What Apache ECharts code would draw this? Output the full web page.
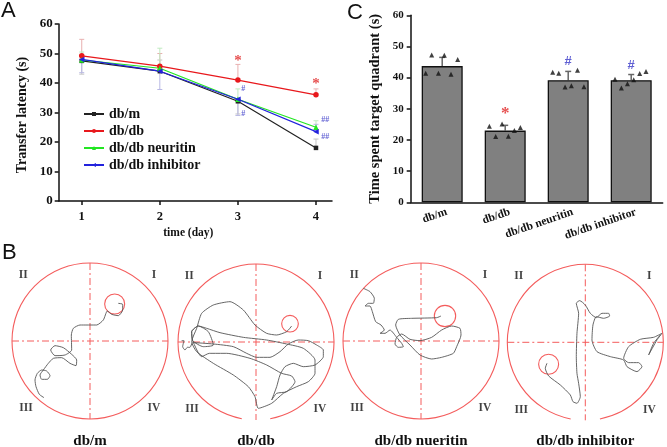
<!DOCTYPE html>
<html><head><meta charset="utf-8">
<style>html,body{margin:0;padding:0;background:#fff}#c{width:667px;height:447px}</style>
<script src="https://cdn.jsdelivr.net/npm/echarts@6/dist/echarts.min.js"></script>
</head><body><div id="c"></div>
<script>
// Panel A
const days = [1, 2, 3, 4];
const dbM = [47.5, 44, 33.8, 18];
const dbDb = [49.2, 45.7, 41, 36];
const dbNeuritin = [47.8, 45, 34.5, 25];
const dbInhibitor = [48, 44, 34.5, 23.5];
const errM = [[1, 47.5, 43], [2, 44, 47.8], [3, 33.8, 29.5], [4, 18, 21]];
const errDb = [[1, 49.2, 54.8], [2, 45.7, 50], [3, 41, 46.3], [4, 36, 38]];
const errNeuritin = [[1, 47.8, 50.5], [2, 45, 51.8], [3, 34.5, 38], [4, 25, 27.2]];
const errInhibitor = [[1, 48, 43.5], [2, 44, 37.8], [3, 34.5, 29], [4, 23.5, 26]];
const starsA = [[3, 47.5], [4, 39.5]];
const hashA = [[3.07, 37.9, '#'], [3.07, 29.4, '#'], [4.12, 27.5, '##'], [4.12, 21.6, '##']];
// Panel C
const groups = ['db/m', 'db/db', 'db/db neuritin', 'db/db inhibitor'];
const timeTarget = [43.7, 23, 39.2, 39.2];
const timeErr = [46.5, 24.7, 42, 41];
const pointsC = [
  [0.238, 41.4], [0.333, 47.3], [0.44, 41.4], [0.534, 47.2], [0.64, 41.1], [0.746, 45.8],
  [1.249, 24.4], [1.349, 21.1], [1.45, 25.1], [1.55, 21.2], [1.646, 23], [1.741, 24],
  [2.254, 41.7], [2.35, 41.4], [2.45, 37], [2.55, 37.4], [2.648, 42.4], [2.75, 37.1],
  [3.243, 39.5], [3.344, 36.7], [3.44, 38], [3.54, 39.3], [3.635, 41.3], [3.735, 42]
];
const starC = [[1.5, 28.6]];
const hashC = [[2.5, 45.1], [3.5, 44]];
const traceM = [[132,488],[118,478],[108,455],[105,435],[112,415],[125,405],[140,408],[150,422],[142,433],[125,433],[120,420],[130,405],[145,385],[160,370],[185,368],[210,385],[228,392],[230,375],[215,358],[190,338],[165,332],[152,345],[165,362],[195,360],[215,345],[214,300],[220,280],[240,270],[290,270],[310,255],[322,228],[335,238],[355,242],[368,225],[368,208],[355,205]];
const traceDb = [[35,272],[42,272],[38,290],[45,300],[52,292],[60,292],[68,278],[130,282],[190,290],[230,310],[260,322],[300,322],[330,305],[355,282],[385,270],[415,272],[440,285],[460,300],[460,320],[435,345],[400,350],[370,340],[345,350],[330,375],[320,410],[305,450],[320,430],[350,425],[375,395],[365,378],[335,370],[290,345],[240,325],[170,310],[118,310],[95,320],[68,272],[65,245],[85,228],[115,245],[130,285],[100,290],[68,272],[65,245],[85,228],[110,235],[150,248],[220,262],[290,270],[350,282],[400,295],[435,330],[435,370],[415,395],[380,410],[340,430],[305,460],[265,475],[255,440],[235,410],[190,375],[130,340],[80,305],[65,275],[80,235],[95,190],[130,165],[180,155],[220,180],[255,225],[290,250],[320,255],[350,245],[365,228]];
const traceNeuritin = [[85,115],[105,125],[118,145],[115,160],[100,160],[90,168],[105,168],[112,185],[122,215],[138,225],[148,240],[135,250],[150,250],[165,240],[185,262],[200,280],[205,290],[190,292],[180,282],[185,262],[200,252],[225,268],[255,272],[290,262],[320,240],[350,228],[375,235],[378,255],[365,290],[355,310],[320,322],[290,327],[255,315],[225,285],[195,255],[182,225],[190,208],[230,205],[305,203],[318,198]];
const traceInhibitor = [[150,340],[145,355],[155,378],[190,405],[220,435],[228,455],[240,460],[250,440],[245,400],[240,370],[238,320],[240,250],[245,190],[238,160],[248,152],[265,165],[280,190],[298,203],[315,190],[335,190],[338,198],[320,205],[298,200],[288,225],[285,270],[300,305],[340,320],[380,330],[390,350],[420,365],[435,350],[425,338],[395,338],[380,325],[395,290],[430,268],[470,262],[495,250],[480,270],[455,315],[470,280],[490,255]];
const mazeCentres = [[270,318],[258,276],[258,273],[265,277]];
const gapDegrees = [0, 10.5, 0, 10.8];
const platforms = [[344,207,30],[360,221,25],[330,198,32],[155,343,30]];
const captions = ['db/m', 'db/db', 'db/db nueritin', 'db/db inhibitor'];
const quadrants = ['I', 'II', 'III', 'IV'];

const SERIF = '"Liberation Serif","Times New Roman",serif';
const chart = echarts.init(document.getElementById('c'), null, {renderer: 'canvas'});
const axisLine = {show: true, lineStyle: {color: '#111', width: 1.5}};
const axisTick = {show: true, length: 4, lineStyle: {color: '#111', width: 1.5}};

function errorSeries(data, color) {
  return {type: 'custom', xAxisIndex: 0, yAxisIndex: 0, z: 1, silent: true, data,
    renderItem(p, api) {
      const a = api.coord([api.value(0), api.value(1)]), b = api.coord([api.value(0), api.value(2)]);
      return {type: 'group', children: [
        {type: 'line', shape: {x1: a[0], y1: a[1], x2: b[0], y2: b[1]}, style: {stroke: color, lineWidth: 1}},
        {type: 'line', shape: {x1: b[0] - 2.5, y1: b[1], x2: b[0] + 2.5, y2: b[1]}, style: {stroke: color, lineWidth: 1}}
      ]};
    }};
}
function lineSeries(name, vals, color, symbol, rot) {
  return {name, type: 'line', xAxisIndex: 0, yAxisIndex: 0, z: 3, data: vals.map((v, i) => [days[i], v]),
    symbol, symbolSize: symbol === 'rect' ? 4.5 : 5.5, symbolRotate: rot || 0,
    lineStyle: {color, width: 1.2}, itemStyle: {color}};
}
function textSeries(x, y, data, color, size, fam) {
  return {type: 'scatter', xAxisIndex: x, yAxisIndex: y, symbolSize: 0, silent: true, z: 5, data,
    label: {show: true, position: 'inside', color, fontSize: size, fontFamily: fam || SERIF, fontWeight: 'bold',
      formatter: p => (p.data[2] !== undefined ? p.data[2] : '')}};
}

const grid = [
  {left: 58.7, top: 24, width: 273.3, height: 177},
  {left: 410.7, top: 15.3, width: 252, height: 187},
];
const xAxis = [
  {gridIndex: 0, type: 'value', min: 0.705, max: 4.205, splitLine: {show: false}, axisLine,
   axisTick: {...axisTick, customValues: days},
   axisLabel: {customValues: days, color: '#111', fontFamily: SERIF, fontWeight: 'bold', fontSize: 12.5, margin: 9},
   name: 'time (day)', nameLocation: 'middle', nameGap: 26,
   nameTextStyle: {color: '#111', fontFamily: SERIF, fontWeight: 'bold', fontSize: 11.5, padding: [0, 14, 0, 0]}},
  {gridIndex: 1, type: 'category', data: groups, axisLine, axisTick: {show: false},
   axisLabel: {rotate: 19, color: '#111', fontFamily: SERIF, fontWeight: 'bold', fontSize: 11.5, margin: 11, interval: 0, padding: [0, -5, 0, 0]}},
  {gridIndex: 1, type: 'value', min: 0, max: 4, show: false},
];
const yAxis = [
  {gridIndex: 0, type: 'value', min: 0, max: 60, interval: 10, splitLine: {show: false}, axisLine, axisTick,
   axisLabel: {color: '#111', fontFamily: SERIF, fontWeight: 'bold', fontSize: 13, margin: 6},
   name: 'Transfer latency (s)', nameLocation: 'middle', nameGap: 29,
   nameTextStyle: {color: '#111', fontFamily: SERIF, fontWeight: 'bold', fontSize: 14, padding: [0, 5, 0, 0]}},
  {gridIndex: 1, type: 'value', min: 0, max: 60, interval: 10, splitLine: {show: false}, axisLine, axisTick,
   axisLabel: {color: '#111', fontFamily: SERIF, fontWeight: 'bold', fontSize: 11, margin: 7},
   name: 'Time spent target quadrant (s)', nameLocation: 'middle', nameGap: 28,
   nameTextStyle: {color: '#111', fontFamily: SERIF, fontWeight: 'bold', fontSize: 14.5}},
];
const series = [
  errorSeries(errM, '#c4c4c4'), errorSeries(errDb, '#e8b0b0'),
  errorSeries(errNeuritin, '#c0eac0'), errorSeries(errInhibitor, '#b8b8e4'),
  lineSeries('db/m', dbM, '#222', 'rect'),
  lineSeries('db/db', dbDb, '#e8181c', 'circle'),
  lineSeries('db/db neuritin', dbNeuritin, '#22e622', 'triangle'),
  lineSeries('db/db inhibitor', dbInhibitor, '#2222dd', 'triangle', 90),
  textSeries(0, 0, starsA.map(p => [p[0], p[1], '*']), '#e02020', 15),
  textSeries(0, 0, hashA, '#3838c8', 8),
  {type: 'bar', xAxisIndex: 1, yAxisIndex: 1, data: timeTarget, barWidth: 41, z: 2,
   itemStyle: {color: '#808080', borderColor: '#111', borderWidth: 1.3}},
  {type: 'custom', xAxisIndex: 1, yAxisIndex: 1, z: 1, silent: true,
   data: timeTarget.map((v, i) => [i, v, timeErr[i]]),
   renderItem(p, api) {
     const a = api.coord([api.value(0), api.value(1)]), b = api.coord([api.value(0), api.value(2)]);
     const st = {stroke: '#666', lineWidth: 1.5};
     return {type: 'group', children: [
       {type: 'line', shape: {x1: a[0], y1: a[1], x2: b[0], y2: b[1]}, style: st},
       {type: 'line', shape: {x1: b[0] - 3, y1: b[1], x2: b[0] + 3, y2: b[1]}, style: st}
     ]};
   }},
  {type: 'scatter', xAxisIndex: 2, yAxisIndex: 1, z: 4, data: pointsC, symbol: 'triangle', symbolSize: 5,
   itemStyle: {color: '#111'}},
  textSeries(2, 1, starC.map(p => [p[0], p[1], '*']), '#e02020', 17),
  textSeries(2, 1, hashC.map(p => [p[0], p[1], '#']), '#3838c8', 13, '"Liberation Sans",sans-serif'),
];

const traces = [traceM, traceDb, traceNeuritin, traceInhibitor];
const panelCentres = [[90, 341], [256, 342], [421, 341], [585.3, 342.3]];
const quadOffsets = {I: [192, -198], II: [-200, -198], III: [-192, 202], IV: [192, 202]};
const RED = '#f45c5c';
function ringSeries(ax, yax, rows, width) {
  return {type: 'custom', xAxisIndex: ax, yAxisIndex: yax, silent: true, z: 2, clip: false, data: rows,
    renderItem(p, api) {
      const c = api.coord([api.value(0), api.value(1)]);
      const r = api.size([api.value(2), 0])[0];
      return {type: 'arc', shape: {cx: c[0], cy: c[1], r,
          startAngle: api.value(3) * Math.PI / 180, endAngle: api.value(4) * Math.PI / 180, clockwise: true},
        style: {stroke: RED, lineWidth: width, fill: null}};
    }};
}
traces.forEach((t, i) => {
  const [mx, my] = mazeCentres[i], [px, py] = panelCentres[i], ax = i + 2, gap = gapDegrees[i];
  grid.push({left: px - 80, top: py - 80, width: 160, height: 160});
  xAxis.push({gridIndex: ax, type: 'value', min: mx - 240, max: mx + 240, show: false});
  yAxis.push({gridIndex: ax, type: 'value', min: my - 240, max: my + 240, inverse: true, show: false});
  const dash = {color: RED, width: 1, type: [7, 3, 2, 3]};
  const x = ax + 1; // xAxis index shifted by the hidden value axis of panel C
  const s = (o) => Object.assign({xAxisIndex: x, yAxisIndex: ax, silent: true, clip: false}, o);
  series.push(s({type: 'line', symbol: 'none', lineStyle: dash, z: 1, data: [[mx - 234, my], [mx + 234, my]]}));
  series.push(s({type: 'line', symbol: 'none', lineStyle: dash, z: 1, data: [[mx, my - 234], [mx, my + 234]]}));
  series.push(ringSeries(x, ax, [[mx, my, 234, 90 + gap, 90 - gap + 360]], 1.1));
  series.push(ringSeries(x, ax, [[platforms[i][0], platforms[i][1], platforms[i][2], 0, 360]], 1.1));
  series.push(s({type: 'line', symbol: 'none', smooth: 0.2, z: 3, data: t, lineStyle: {color: '#555', width: 0.9}}));
  series.push(textSeries(x, ax, quadrants.map(q => [mx + quadOffsets[q][0], my + quadOffsets[q][1], q]), '#111', 11.5));
});
// captions and panel letters
const free = [];
panelCentres.forEach((c, i) => free.push({type: 'text', x: c[0], y: 441, z: 10,
  style: {text: captions[i], fill: '#111', font: 'bold 15px ' + SERIF, textAlign: 'center', textVerticalAlign: 'middle'}}));
[['A', 1, 11], ['C', 347, 13], ['B', 2, 253]].forEach(l => free.push({type: 'text', x: l[1], y: l[2], z: 10,
  style: {text: l[0], fill: '#111', font: '22px "Liberation Sans",Arial,sans-serif', textVerticalAlign: 'middle'}}));

chart.setOption({
  animation: false, backgroundColor: '#fff', grid, xAxis, yAxis, series,
  legend: {left: 83, top: 107, padding: 0, orient: 'vertical', itemWidth: 20, itemHeight: 5, itemGap: 3,
    data: ['db/m', 'db/db', 'db/db neuritin', 'db/db inhibitor'], selectedMode: false,
    textStyle: {color: '#111', fontFamily: SERIF, fontWeight: 'bold', fontSize: 14}},
  graphic: free
});
</script></body></html>
